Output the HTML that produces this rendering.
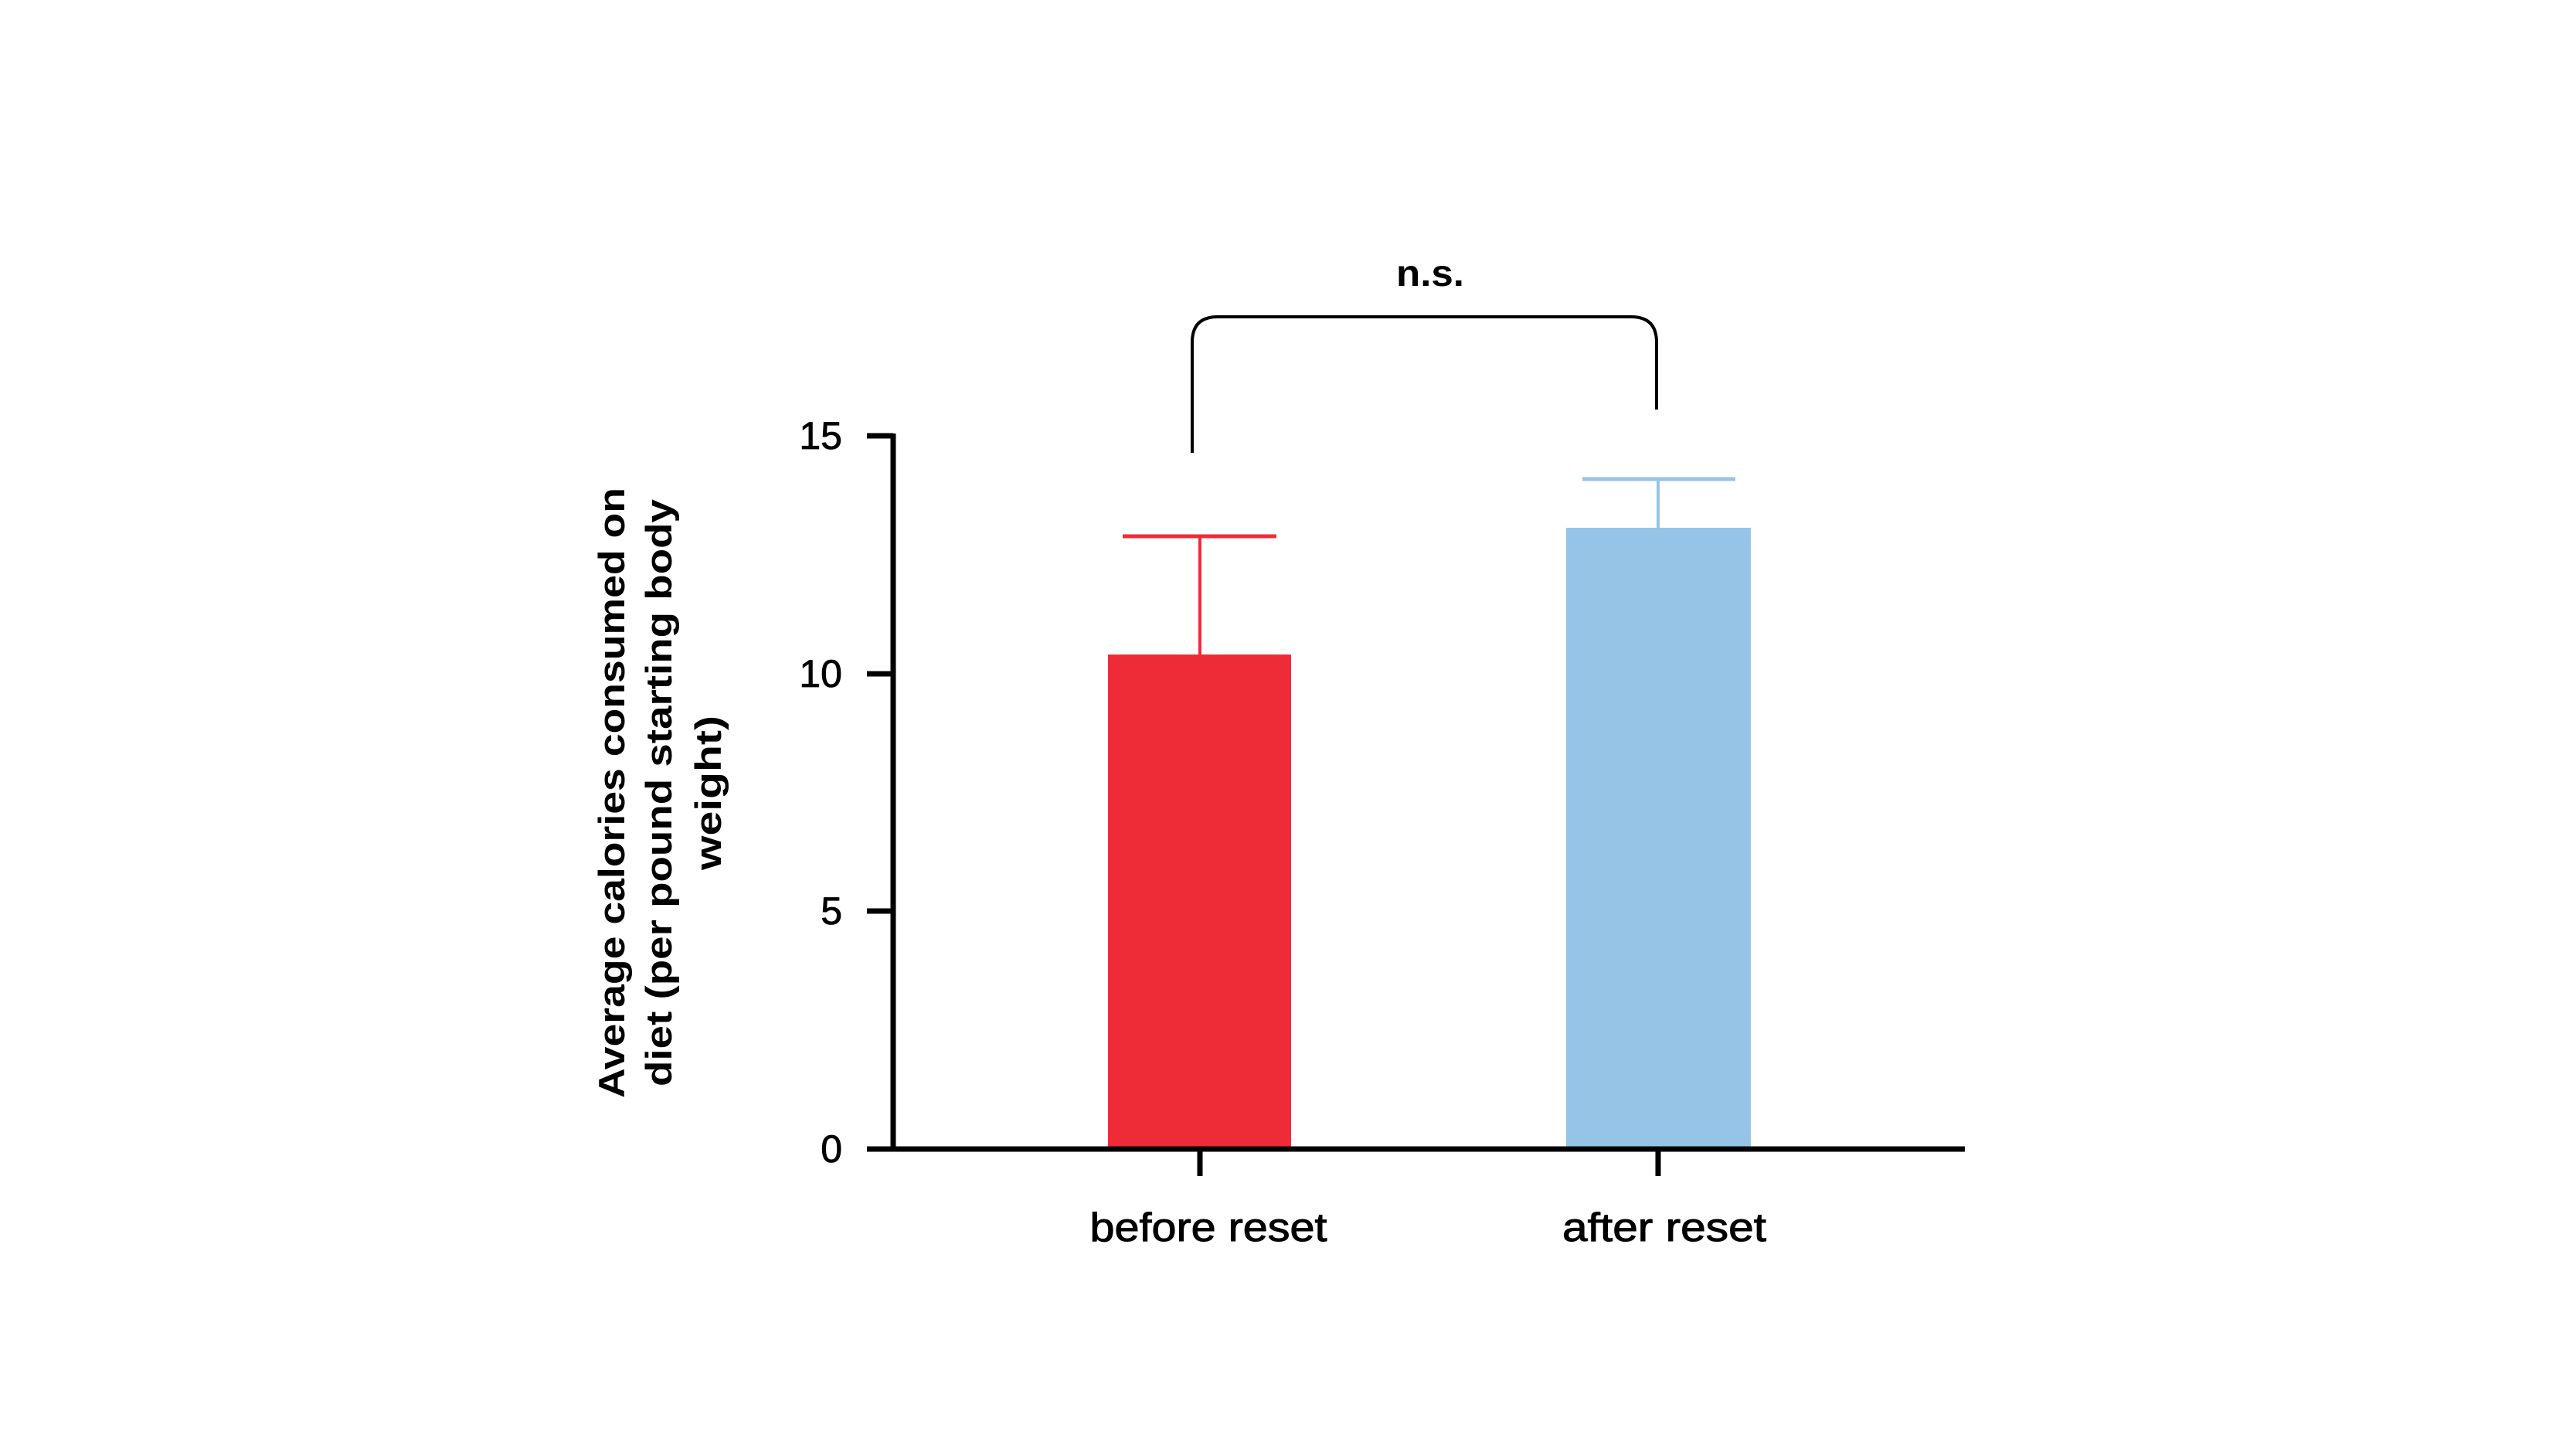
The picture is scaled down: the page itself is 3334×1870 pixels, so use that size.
<!DOCTYPE html>
<html><head><meta charset="utf-8"><style>html,body{margin:0;padding:0;background:#fff}</style></head>
<body>
<svg width="3334" height="1865" viewBox="0 0 3334 1865" xmlns="http://www.w3.org/2000/svg" font-family="Liberation Sans, sans-serif">
<rect width="3334" height="1865" fill="#fff"/>
<g transform="translate(-4,-2)">
<!-- bars -->
<rect x="1438" y="849" width="237" height="640" fill="#ee2c38"/>
<rect x="2031" y="685" width="239" height="804" fill="#96c4e7"/>
<!-- error bars -->
<line x1="1557" y1="849" x2="1557" y2="696" stroke="#ee2c38" stroke-width="4"/>
<line x1="1457" y1="696" x2="1656" y2="696" stroke="#ee2c38" stroke-width="5"/>
<line x1="2150" y1="685" x2="2150" y2="622" stroke="#96c4e7" stroke-width="4"/>
<line x1="2052" y1="622" x2="2250" y2="622" stroke="#96c4e7" stroke-width="5"/>
<!-- axes -->
<line x1="1160" y1="563" x2="1160" y2="1491" stroke="#000" stroke-width="7"/>
<line x1="1126" y1="1489" x2="2547" y2="1489" stroke="#000" stroke-width="7"/>
<g stroke="#000" stroke-width="7">
<line x1="1126" y1="566" x2="1160" y2="566"/>
<line x1="1126" y1="874" x2="1160" y2="874"/>
<line x1="1126" y1="1181" x2="1160" y2="1181"/>
<line x1="1557" y1="1489" x2="1557" y2="1524"/>
<line x1="2150" y1="1489" x2="2150" y2="1524"/>
</g>
<g font-size="50" text-anchor="end" fill="#000" stroke="#000" stroke-width="0.8">
<text x="1094" y="583">15</text>
<text x="1094" y="891">10</text>
<text x="1094" y="1198">5</text>
<text x="1094" y="1506">0</text>
</g>
<g font-size="52" text-anchor="middle" fill="#000" stroke="#000" stroke-width="1">
<text x="1568" y="1608" textLength="307" lengthAdjust="spacingAndGlyphs">before reset</text>
<text x="2158" y="1608" textLength="264" lengthAdjust="spacingAndGlyphs">after reset</text>
</g>
<!-- bracket -->
<path d="M1547 588 V445 Q1547 412 1580 412 H2115 Q2148 412 2148 445 V532" fill="none" stroke="#000" stroke-width="4"/>
<text x="1855" y="372" font-size="48" font-weight="bold" text-anchor="middle" textLength="88" lengthAdjust="spacingAndGlyphs">n.s.</text>
<!-- y label -->
<g font-size="47" font-weight="bold" text-anchor="middle" fill="#000">
<text transform="translate(812,1028) rotate(-90)" textLength="790" lengthAdjust="spacingAndGlyphs">Average calories consumed on</text>
<text transform="translate(873,1028) rotate(-90)" textLength="760" lengthAdjust="spacingAndGlyphs">diet (per pound starting body</text>
<text transform="translate(937,1028) rotate(-90)" textLength="200" lengthAdjust="spacingAndGlyphs">weight)</text>
</g>
</g>
</svg>
</body></html>
